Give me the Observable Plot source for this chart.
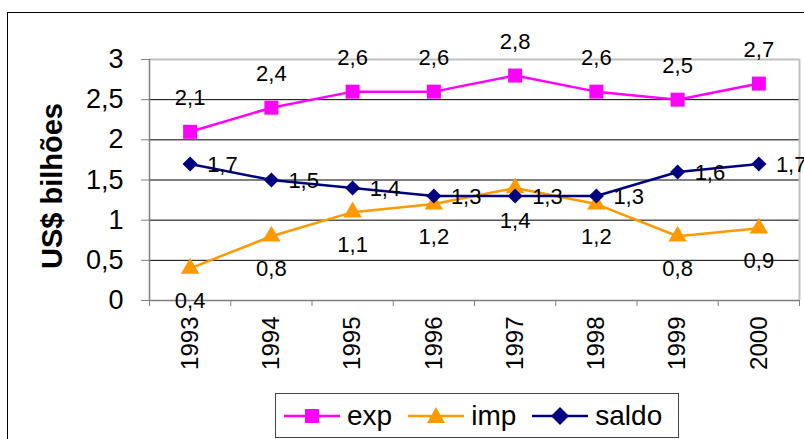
<!DOCTYPE html>
<html><head><meta charset="utf-8">
<script src="https://cdn.jsdelivr.net/npm/d3@7"></script>
<script src="https://cdn.jsdelivr.net/npm/@observablehq/plot@0.6"></script>
<style>
html,body{margin:0;padding:0;background:#fff;overflow:hidden;width:804px;height:439px;}
#wrap{position:relative;width:804px;height:439px;font-family:"Liberation Sans",Arial,sans-serif;overflow:hidden;}
#frame{position:absolute;left:7px;top:12px;width:900px;height:600px;border-left:1px solid #000;border-top:1px solid #000;}
#chart{position:absolute;left:0;top:0;}
#legend{position:absolute;left:275px;top:393px;width:394px;height:43px;border:1px solid #444;background:#fff;display:flex;align-items:center;box-sizing:content-box;padding-left:8px;}
.item{display:flex;align-items:center;margin-right:16px;font-size:28px;color:#000;}
.item svg{margin-right:7px;}
</style>
</head><body>
<div id="wrap"><div id="frame"></div><div id="chart"></div><div id="legend"></div></div>
<script>
const years = [1993, 1994, 1995, 1996, 1997, 1998, 1999, 2000];
const exp   = [2.1, 2.4, 2.6, 2.6, 2.8, 2.6, 2.5, 2.7];
const imp   = [0.4, 0.8, 1.1, 1.2, 1.4, 1.2, 0.8, 0.9];
const saldo = [1.7, 1.5, 1.4, 1.3, 1.3, 1.3, 1.6, 1.7];
const seriesNames = ["exp", "imp", "saldo"];
const yTicks = [0, 0.5, 1, 1.5, 2, 2.5, 3];
const yTitle = "US$ bilhões";

const colors = {exp: "#FF00FF", imp: "#FF9900", saldo: "#000080"};
const symbols = {exp: "square", imp: "triangle", saldo: "diamond2"};
const radii = {exp: 7.9, imp: 6.8, saldo: 6.8};
const values = {exp, imp, saldo};
const fmt = v => String(v).replace(".", ",");

const rows = seriesNames.flatMap(s => years.map((yr, i) => ({s, year: yr, v: values[s][i]})));
const bounds = [years[0] - 0.5, ...years.map(y => y + 0.5)];
const gridBlack = yTicks.slice(1, -1);

const marks = [
  Plot.ruleY(gridBlack, {stroke: "#000", strokeWidth: 1}),
  Plot.ruleY([yTicks[yTicks.length - 1]], {stroke: "#c0c0c0", strokeWidth: 2}),
  Plot.ruleX([bounds[bounds.length - 1]], {stroke: "#c0c0c0", strokeWidth: 2}),
  Plot.ruleY([0], {stroke: "#808080", strokeWidth: 1.5}),
  Plot.ruleX([bounds[0]], {stroke: "#808080", strokeWidth: 1.5}),
  Plot.axisY(yTicks, {anchor: "left", tickSize: 8, tickPadding: 18, fontSize: 27, stroke: "#808080", fill: "#000", tickFormat: fmt, label: null}),
  Plot.axisX(bounds, {anchor: "bottom", tickSize: 6, tickFormat: () => "", stroke: "#808080", label: null}),
  Plot.axisX(years, {anchor: "bottom", tickSize: 0, tickPadding: 16, tickRotate: -90, fontSize: 24, fill: "#000", tickFormat: d => String(d), label: null}),
  Plot.text([yTitle], {frameAnchor: "left", text: d => d, rotate: -90, textAnchor: "middle", dx: -97, dy: 6, fontSize: 29, fontWeight: "bold", fill: "#000"})
];
for (const s of seriesNames) {
  const data = rows.filter(d => d.s === s);
  marks.push(Plot.line(data, {x: "year", y: "v", stroke: colors[s], strokeWidth: 2.5}));
  marks.push(Plot.dot(data, {x: "year", y: "v", symbol: symbols[s], r: radii[s], fill: colors[s], stroke: "none"}));
}
for (const s of seriesNames) {
  const data = rows.filter(d => d.s === s);
  const opts = {x: "year", y: "v", text: d => fmt(d.v), fontSize: 22, fill: "#000"};
  if (s === "exp") Object.assign(opts, {dy: -34});
  if (s === "imp") Object.assign(opts, {dy: 33});
  if (s === "saldo") Object.assign(opts, {dx: 17, dy: 1, textAnchor: "start"});
  marks.push(Plot.text(data, opts));
}

const chart = Plot.plot({
  width: 804, height: 439,
  marginLeft: 149, marginRight: 5, marginTop: 59, marginBottom: 139,
  x: {type: "linear", domain: [bounds[0], bounds[bounds.length - 1]]},
  y: {type: "linear", domain: [0, 3]},
  style: {fontFamily: "'Liberation Sans', Arial, sans-serif", background: "transparent", overflow: "visible"},
  marks
});
document.getElementById("chart").appendChild(chart);

// legend
const legend = document.getElementById("legend");
const symPath = {
  exp: `<rect x="21" y="3" width="14" height="14" fill="${colors.exp}"/>`,
  imp: `<path d="M28,1 L37,17 L19,17 Z" fill="${colors.imp}"/>`,
  saldo: `<path d="M28,1 L37,10 L28,19 L19,10 Z" fill="${colors.saldo}"/>`
};
for (const s of seriesNames) {
  const div = document.createElement("div");
  div.className = "item";
  div.innerHTML = `<svg width="56" height="20"><line x1="0" x2="56" y1="10" y2="10" stroke="${colors[s]}" stroke-width="2.5"/>${symPath[s]}</svg><span>${s}</span>`;
  legend.appendChild(div);
}
</script>
</body></html>
